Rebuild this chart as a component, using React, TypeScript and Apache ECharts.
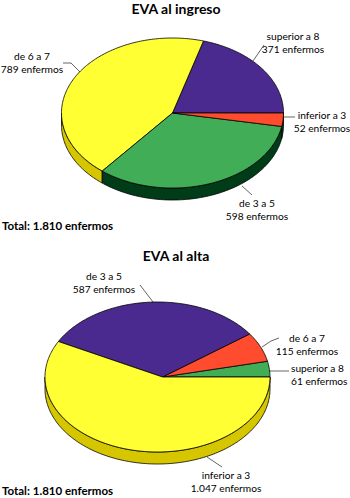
import React, { useEffect, useRef } from "react";
import * as echarts from "echarts";

const FONT = "Lato, 'Noto Sans', sans-serif";
const TOTAL_LABEL = "Total: 1.810 enfermos";

const ingresoTitle = "EVA al ingreso";
const ingresoNames = ["superior a 8", "de 6 a 7", "de 3 a 5", "inferior a 3"];
const ingresoValues = [371, 789, 598, 52];
const ingresoValueLabels = ["371 enfermos", "789 enfermos", "598 enfermos", "52 enfermos"];
const ingresoColors = ["#4b2a8f", "#ffff33", "#42ad57", "#ff4b2e"];
const ingresoRims = ["#2c1860", "#d6c600", "#003c18", "#003c18"];

const altaTitle = "EVA al alta";
const altaNames = ["superior a 8", "de 6 a 7", "de 3 a 5", "inferior a 3"];
const altaValues = [61, 115, 587, 1047];
const altaValueLabels = ["61 enfermos", "115 enfermos", "587 enfermos", "1.047 enfermos"];
const altaColors = ["#42ad57", "#ff4b2e", "#4b2a8f", "#ffff33"];
const altaRims = ["#003c18", "#a02a10", "#2c1860", "#d6c600"];

const DEPTH = 12;

function wedgeSeries(
  names: string[],
  values: number[],
  colors: string[],
  rims: string[],
  cx: number,
  cy: number,
  rx: number,
  ry: number,
  apexDx = 0
) {
  const total = values.reduce((a, b) => a + b, 0);
  const pt = (deg: number, dy = 0) => {
    const t = (deg * Math.PI) / 180;
    return [cx + rx * Math.cos(t), cy - ry * Math.sin(t) + dy];
  };
  const arc = (a: number, b: number, dy = 0) => {
    const n = Math.max(2, Math.ceil(Math.abs(b - a)));
    const out: number[][] = [];
    for (let i = 0; i <= n; i++) out.push(pt(a + ((b - a) * i) / n, dy));
    return out;
  };
  const ranges: number[][] = [];
  let acc = 0;
  values.forEach((v) => {
    const s = (acc / total) * 360;
    acc += v;
    ranges.push([s, (acc / total) * 360]);
  });
  const stroke = { stroke: "#000", lineWidth: 0.8, lineJoin: "round" };
  return {
    type: "custom",
    coordinateSystem: "none",
    silent: true,
    clip: false,
    data: values.map((v, i) => ({ name: names[i], value: v })),
    renderItem: (params: any) => {
      const i = params.dataIndex;
      const [a, b] = ranges[i];
      const children: any[] = [];
      const ra = Math.max(a, 180);
      const rb = b;
      if (rb > ra) {
        children.push({
          type: "polygon",
          shape: { points: [...arc(ra, rb), ...arc(rb, ra, DEPTH)] },
          style: { fill: rims[i], ...stroke },
        });
      }
      children.push({
        type: "polygon",
        shape: { points: [[cx + apexDx, cy], ...arc(a, b)] },
        style: { fill: colors[i], ...stroke },
        z2: 10,
      });
      return { type: "group", children };
    },
  };
}

function label(x: number, y: number, lines: string, align: string = "center") {
  return {
    type: "text",
    x,
    y,
    style: {
      text: lines,
      fontFamily: FONT,
      fontSize: 10.2,
      lineHeight: 12.5,
      fill: "#000",
      align,
      verticalAlign: "top",
    },
  };
}

function leader(pts: number[][]) {
  return {
    type: "polyline",
    shape: { points: pts },
    style: { stroke: "#222", lineWidth: 0.7, fill: "none" },
  };
}

function heading(x: number, y: number, text: string, size: number, align: string = "center") {
  return {
    type: "text",
    x,
    y,
    style: {
      text,
      fontFamily: FONT,
      fontWeight: "bold",
      fontSize: size,
      fill: "#000",
      align,
      verticalAlign: "top",
    },
  };
}

export default function App() {
  const ref = useRef<HTMLDivElement | null>(null);
  useEffect(() => {
    document.body.style.margin = "0";
    const chart = echarts.init(ref.current as HTMLDivElement, undefined, { renderer: "svg" });
    chart.setOption({
      animation: false,
      backgroundColor: "#fff",
      series: [
        wedgeSeries(ingresoNames, ingresoValues, ingresoColors, ingresoRims, 172.5, 113, 111, 75),
        wedgeSeries(altaNames, altaValues, altaColors, altaRims, 157.5, 377, 112.5, 75, 5),
      ],
      graphic: [
        heading(176, 1, ingresoTitle, 14),
        heading(176, 248, altaTitle, 14),
        heading(2, 219, TOTAL_LABEL, 11.5, "left"),
        heading(2, 484, TOTAL_LABEL, 11.5, "left"),

        label(32, 50, `${ingresoNames[1]}\n${ingresoValueLabels[1]}`),
        label(293, 30, `${ingresoNames[0]}\n${ingresoValueLabels[0]}`),
        label(322, 109, `${ingresoNames[3]}\n${ingresoValueLabels[3]}`),
        label(257, 197, `${ingresoNames[2]}\n${ingresoValueLabels[2]}`),
        leader([[63, 63], [71, 63], [80, 72]]),
        leader([[264, 45], [253, 61]]),
        leader([[283, 117], [295, 117]]),
        leader([[242, 186], [252, 195]]),

        label(104, 270, `${altaNames[2]}\n${altaValueLabels[2]}`),
        label(307, 332, `${altaNames[1]}\n${altaValueLabels[1]}`),
        label(291, 362, `${altaNames[0]}\n${altaValueLabels[0]}`, "left"),
        label(226, 469, `${altaNames[3]}\n${altaValueLabels[3]}`),
        leader([[140, 285], [153, 302]]),
        leader([[279, 338], [271, 341], [262, 347]]),
        leader([[269, 371], [289, 371]]),
        leader([[207, 457], [222, 467]]),
      ],
    });
    return () => chart.dispose();
  }, []);
  return <div ref={ref} style={{ width: 350, height: 498 }} />;
}
